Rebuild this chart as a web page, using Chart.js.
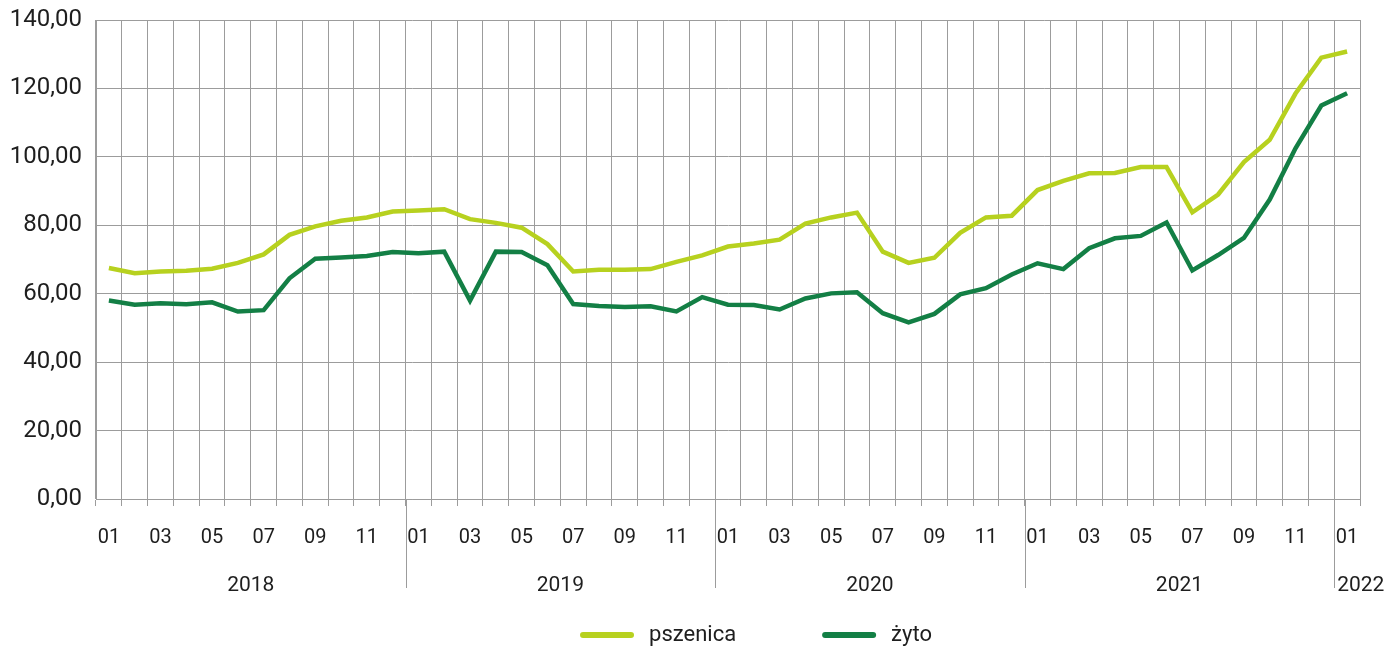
<!DOCTYPE html>
<html>
<head>
<meta charset="utf-8">
<script src="https://cdn.jsdelivr.net/npm/chart.js@4"></script>
<style>
  html, body { margin: 0; padding: 0; background: #fff; }
  #wrap { width: 1388px; height: 647px; }
</style>
</head>
<body>
<div id="wrap"><canvas id="chart"></canvas></div>
<script>
// months 2018-01 .. 2022-01
const years = ["2018", "2019", "2020", "2021", "2022"];
const monthLabels = [];
const yearOfPoint = [];
years.forEach(y => {
    const n = y === "2022" ? 1 : 12;
    for (let m = 1; m <= n; m++) {
        monthLabels.push(String(m).padStart(2, "0"));
        yearOfPoint.push(y);
    }
});

const pszenica = [
    67.5, 66.0, 66.5, 66.7, 67.3, 69.0, 71.5, 77.2, 79.7, 81.3, 82.3, 84.0,
    84.3, 84.7, 81.8, 80.7, 79.3, 74.5, 66.5, 67.0, 67.0, 67.2, 69.3, 71.2,
    73.8, 74.7, 75.8, 80.5, 82.3, 83.7, 72.3, 69.0, 70.5, 77.8, 82.3, 82.8,
    90.3, 93.0, 95.2, 95.3, 97.0, 97.0, 83.8, 89.0, 98.5, 105.0, 118.5, 129.0,
    130.8
];
const zyto = [
    58.0, 56.8, 57.2, 56.9, 57.5, 54.8, 55.2, 64.5, 70.2, 70.6, 71.0, 72.2,
    71.8, 72.3, 58.0, 72.3, 72.2, 68.3, 57.0, 56.4, 56.1, 56.3, 54.8, 59.0,
    56.8, 56.7, 55.4, 58.6, 60.1, 60.4, 54.3, 51.6, 54.1, 59.8, 61.6, 65.6,
    68.9, 67.2, 73.3, 76.2, 76.9, 80.8, 66.8, 71.3, 76.3, 87.5, 102.5, 115.0,
    118.6
];

const colPszenica = "#b7d11f";
const colZyto = "#137f45";
const gridCol = "#9c9c9c";
const textCol = "#1e1e1e";
const fontFam = "Roboto, 'Open Sans', sans-serif";

/* ---------------- Year row + legend ---------------- */
const extras = {
    id: "extras",
    afterDraw(chart) {
        const x = chart.scales.x;
        const ctx = chart.ctx;
        const top = x.top;
        const half = (x.getPixelForValue(1) - x.getPixelForValue(0)) / 2;
        ctx.save();
        ctx.strokeStyle = gridCol;
        ctx.lineWidth = 1;
        ctx.fillStyle = textCol;
        ctx.font = "21px " + fontFam;
        ctx.textBaseline = "middle";
        years.forEach(y => {
            const first = yearOfPoint.indexOf(y);
            const last = yearOfPoint.lastIndexOf(y);
            const x0 = x.getPixelForValue(first) - half;
            const x1 = x.getPixelForValue(last) + half;
            if (first > 0) {
                ctx.beginPath();
                ctx.moveTo(Math.round(x0) + 0.5, top);
                ctx.lineTo(Math.round(x0) + 0.5, top + 89);
                ctx.stroke();
            }
            if (last - first < 2) {
                ctx.textAlign = "left";
                ctx.fillText(y, x0 + 3, top + 87);
            } else {
                ctx.textAlign = "center";
                ctx.fillText(y, (x0 + x1) / 2, top + 87);
            }
        });

        // legend
        const ly = top + 136;
        ctx.font = "22px " + fontFam;
        ctx.textAlign = "left";
        ctx.lineCap = "round";
        ctx.lineWidth = 6;
        const sample = 54, gapText = 15, gapItem = 86;
        const items = chart.data.datasets.map(d => ({
            text: d.label, color: d.borderColor, w: ctx.measureText(d.label).width
        }));
        let total = 0;
        items.forEach((it, i) => {
            total += sample + gapText + it.w + (i ? gapItem : 0);
        });
        let cx = (chart.chartArea.left + chart.chartArea.right) / 2 + 28 - total / 2;
        items.forEach(it => {
            ctx.strokeStyle = it.color;
            ctx.beginPath();
            ctx.moveTo(cx + 3, ly);
            ctx.lineTo(cx + sample - 3, ly);
            ctx.stroke();
            ctx.fillText(it.text, cx + sample + gapText, ly);
            cx += sample + gapText + it.w + gapItem;
        });
        ctx.restore();
    }
};

const ctx = document.getElementById("chart");
new Chart(ctx, {
    type: "line",
    data: {
        labels: monthLabels,
        datasets: [
            {
                label: "pszenica",
                data: pszenica,
                borderColor: colPszenica,
                backgroundColor: colPszenica,
                borderWidth: 4.5,
                pointRadius: 0,
                tension: 0
            },
            {
                label: "żyto",
                data: zyto,
                borderColor: colZyto,
                backgroundColor: colZyto,
                borderWidth: 4.5,
                pointRadius: 0,
                tension: 0
            }
        ]
    },
    options: {
        responsive: true,
        maintainAspectRatio: false,
        animation: false,
        layout: { padding: { top: 20, right: 28, bottom: 51, left: 0 } },
        plugins: {
            tooltip: { enabled: false },
            legend: { display: false }
        },
        scales: {
            x: {
                offset: true,
                grid: {
                    offset: true,
                    color: gridCol,
                    lineWidth: 1,
                    drawTicks: true,
                    tickLength: 7
                },
                border: { color: gridCol },
                ticks: {
                    autoSkip: false,
                    maxRotation: 0,
                    color: textCol,
                    font: { family: fontFam, size: 20 },
                    padding: 20,
                    callback: (v, i) => (i % 2 === 0 ? monthLabels[i] : "")
                },
                afterFit: s => { s.height = 97; }
            },
            y: {
                min: 0,
                max: 140,
                grid: { color: gridCol, lineWidth: 1, drawTicks: false },
                border: { color: gridCol },
                ticks: {
                    stepSize: 20,
                    color: textCol,
                    font: { family: fontFam, size: 24 },
                    padding: 14,
                    callback: v => v.toFixed(2).replace(".", ",")
                },
                afterFit: s => {
                    s.width = 96;
                    s.paddingTop = 8;
                    s.paddingBottom = 8;
                }
            }
        }
    },
    plugins: [extras]
});
</script>
</body>
</html>
